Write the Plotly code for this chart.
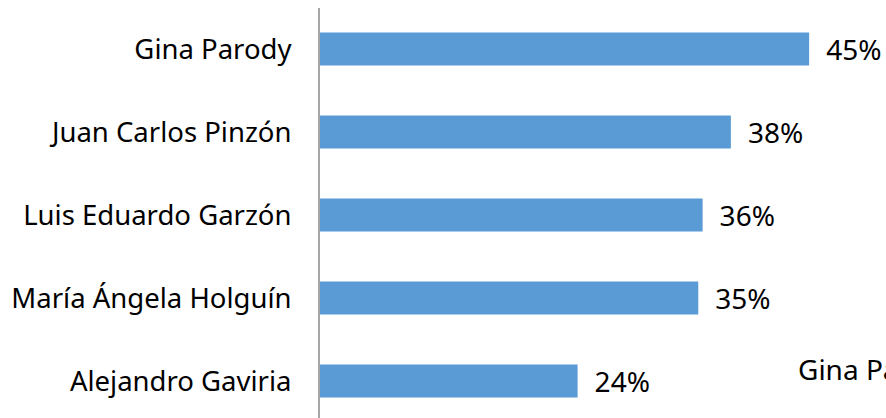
import plotly.graph_objects as go

candidates = ["Alejandro Gaviria", "María Ángela Holguín", "Luis Eduardo Garzón",
              "Juan Carlos Pinzón", "Gina Parody"]
values = [23.7, 34.8, 35.2, 37.8, 45.0]
labels = ["24%", "35%", "36%", "38%", "45%"]

FONT = "Noto Sans"
FS = 27.5

fig = go.Figure(go.Bar(
    y=candidates, x=values, orientation="h",
    marker=dict(color="#5b9bd5", line=dict(width=0)),
    text=["\u2002" + t for t in labels], textposition="outside",
    constraintext="none",
    textfont=dict(family=FONT, size=28, color="#000000"),
    cliponaxis=False,
))

fig.update_layout(
    width=886, height=418,
    margin=dict(l=320, r=0, t=8, b=0, autoexpand=False),
    paper_bgcolor="white", plot_bgcolor="white",
    bargap=0.6, showlegend=False,
    font=dict(family=FONT, size=FS, color="#000000"),
    xaxis=dict(range=[0, 52.07], visible=False, showgrid=False, zeroline=False,
               automargin=False),
    yaxis=dict(type="category", range=[-0.446, 4.494], showgrid=False, zeroline=False,
               showline=True, linecolor="#a6a6a6", linewidth=2, automargin=False,
               ticks="", ticklabelstandoff=21,
               tickfont=dict(family=FONT, size=FS, color="#000000")),
    annotations=[dict(text="Gina Parody", xref="paper", yref="paper", x=0.841, y=0.12,
                      xanchor="left", yanchor="middle", showarrow=False,
                      font=dict(family=FONT, size=28, color="#000000"))],
)

fig.write_html(
    "out.html",
    config={"displayModeBar": False},
    post_script="document.body.style.margin='0';document.body.style.overflow='hidden';",
)
